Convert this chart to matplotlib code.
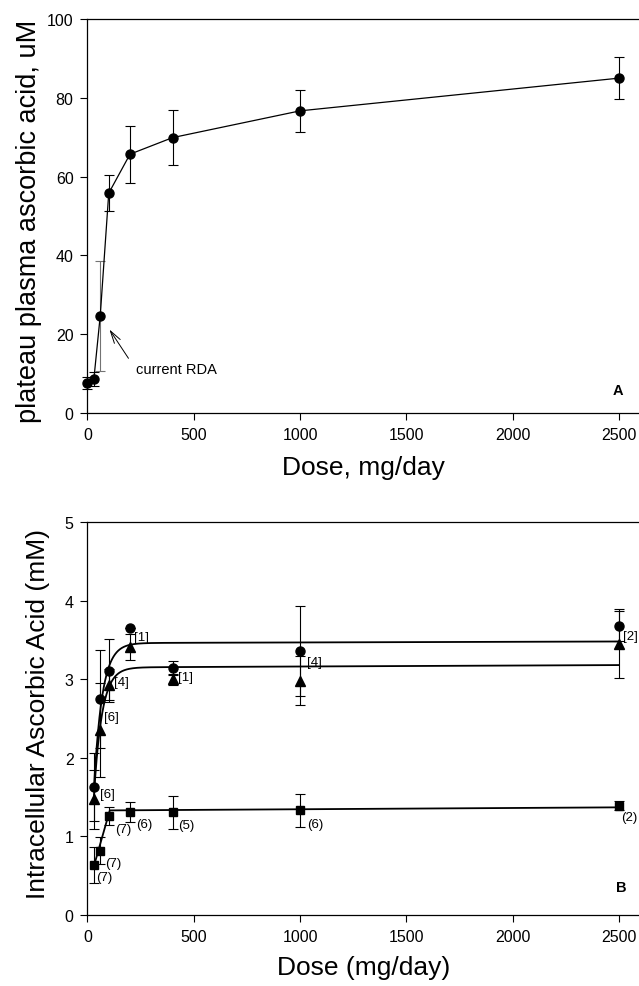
import numpy as np
import matplotlib
matplotlib.use('Agg')
import matplotlib.pyplot as plt

plt.rcParams['font.family'] = ['Liberation Sans', 'DejaVu Sans']

# Panel A: plateau plasma ascorbic acid
dose_a = [0, 30, 60, 100, 200, 400, 1000, 2500]
plasma = [7.6, 8.6, 24.7, 55.8, 65.7, 69.9, 76.7, 85.0]
plasma_err = [1.5, 1.7, 14.0, 4.6, 7.2, 6.9, 5.3, 5.4]

# Panel B: intracellular ascorbic acid
dose_b = [30, 60, 100, 200, 400, 1000, 2500]
circ = [1.63, 2.75, 3.11, 3.65, 3.14, 3.36, 3.68]
circ_err = [0.43, 0.62, 0.40, 0.0, 0.09, 0.57, 0.19]
tri = [1.47, 2.35, 2.93, 3.41, 3.00, 2.98, 3.45]
tri_err = [0.37, 0.60, 0.20, 0.17, 0.07, 0.31, 0.44]
sq = [0.64, 0.82, 1.26, 1.31, 1.31, 1.33, 1.39]
sq_err = [0.23, 0.17, 0.11, 0.13, 0.21, 0.21, 0.06]

tri_n = ['[6]', '[6]', '[4]', '[1]', '[1]', '[4]', '[2]']
sq_n = ['(7)', '(7)', '(7)', '(6)', '(5)', '(6)', '(2)']

# fitted curves (saturation fits)
fit_upper = dict(y0=1.60, top0=3.46, top1=3.48, k=0.0257)
fit_lower = dict(y0=1.50, top0=3.15, top1=3.18, k=0.0265)
fit_sq = dict(y0=0.62, slope=0.0095, top0=1.33, top1=1.37)

fig = plt.figure(figsize=(6.39, 9.87), dpi=100)
axA = fig.add_axes([0.1369, 0.5805, 0.8631, 0.3992])
axB = fig.add_axes([0.1369, 0.0719, 0.8631, 0.3982])

for ax in (axA, axB):
    ax.set_xlim(0, 2594)
    ax.set_xticks([0, 500, 1000, 1500, 2000, 2500])
    ax.spines['right'].set_visible(False)
    for s in ('left', 'top', 'bottom'):
        ax.spines[s].set_linewidth(0.9)
    ax.tick_params(direction='out', length=5, width=0.8, pad=5, labelsize=11.5)

# ---- Panel A
axA.set_ylim(0, 100)
axA.set_yticks([0, 20, 40, 60, 80, 100])
axA.plot(dose_a, plasma, '-', color='black', lw=0.9, clip_on=False, zorder=3)
for i in range(len(dose_a)):
    c = '0.45' if i == 2 else 'black'
    axA.errorbar(dose_a[i], plasma[i], yerr=plasma_err[i], fmt='none',
                 ecolor=c, elinewidth=0.8, capsize=3.5, capthick=0.8,
                 clip_on=False, zorder=2)
axA.plot(dose_a, plasma, 'o', color='black', ms=6.5, clip_on=False, zorder=4)
axA.text(228, 11.2, 'current RDA', fontsize=10.5, va='center', ha='left')
axA.annotate('', xy=(96, 21.8), xytext=(200, 13.3),
             arrowprops=dict(arrowstyle='->,head_length=0.9,head_width=0.25',
                             color='black', lw=0.7))
axA.text(2495, 5.8, 'A', fontsize=10.5, fontweight='bold', ha='center', va='center')
axA.set_xlabel('Dose, mg/day', fontsize=19)
axA.set_ylabel('plateau plasma ascorbic acid, uM', fontsize=19.5)
axA.xaxis.label.set_va('center')
axA.yaxis.label.set_va('center')
axA.xaxis.set_label_coords(0.5, -0.137)
axA.yaxis.set_label_coords(-0.106, 0.49)

# ---- Panel B
axB.set_ylim(0, 5)
axB.set_yticks([0, 1, 2, 3, 4, 5])

xs = np.linspace(dose_b[0], dose_b[-1], 3000)


def sat(p):
    top = p['top0'] + (p['top1'] - p['top0']) * (xs - xs[0]) / (xs[-1] - xs[0])
    return top - (top - p['y0']) * np.exp(-p['k'] * (xs - xs[0]))


sq_top = fit_sq['top0'] + (fit_sq['top1'] - fit_sq['top0']) * (xs - xs[0]) / (xs[-1] - xs[0])
sq_fit = np.minimum(sq_top, fit_sq['y0'] + fit_sq['slope'] * (xs - xs[0]))

axB.plot(xs, sat(fit_upper), color='black', lw=1.3)
axB.plot(xs, sat(fit_lower), color='black', lw=1.3)
axB.plot(xs, sq_fit, color='black', lw=1.3)

eb = dict(fmt='none', ecolor='black', elinewidth=0.8, capsize=3.5, capthick=0.8)
axB.errorbar(dose_b, circ, yerr=circ_err, **eb)
axB.errorbar(dose_b, tri, yerr=tri_err, **eb)
axB.errorbar(dose_b, sq, yerr=sq_err, **eb)
axB.plot(dose_b, circ, 'o', color='black', ms=6.5, zorder=4)
axB.plot(dose_b, tri, '^', color='black', ms=6.5, zorder=4)
axB.plot(dose_b, sq, 's', color='black', ms=5.8, zorder=4)

tri_lab_xy = [(60, 1.54), (80, 2.52), (125, 2.97), (220, 3.54), (426, 3.03),
              (1032, 3.22), (2518, 3.55)]
sq_lab_xy = [(40, 0.48), (82, 0.66), (129, 1.10), (231, 1.16), (427, 1.15),
             (1032, 1.16), (2512, 1.25)]
for (x, y), s in zip(tri_lab_xy, tri_n):
    axB.text(x, y, s, fontsize=9.5, ha='left', va='center')
for (x, y), s in zip(sq_lab_xy, sq_n):
    axB.text(x, y, s, fontsize=9.5, ha='left', va='center', clip_on=False)

axB.text(2510, 0.36, 'B', fontsize=10.5, fontweight='bold', ha='center', va='center')
axB.set_xlabel('Dose (mg/day)', fontsize=19)
axB.set_ylabel('Intracellular Ascorbic Acid (mM)', fontsize=19)
axB.xaxis.label.set_va('center')
axB.yaxis.label.set_va('center')
axB.xaxis.set_label_coords(0.5, -0.132)
axB.yaxis.set_label_coords(-0.09, 0.513)

fig.savefig('out.png', dpi=100)
